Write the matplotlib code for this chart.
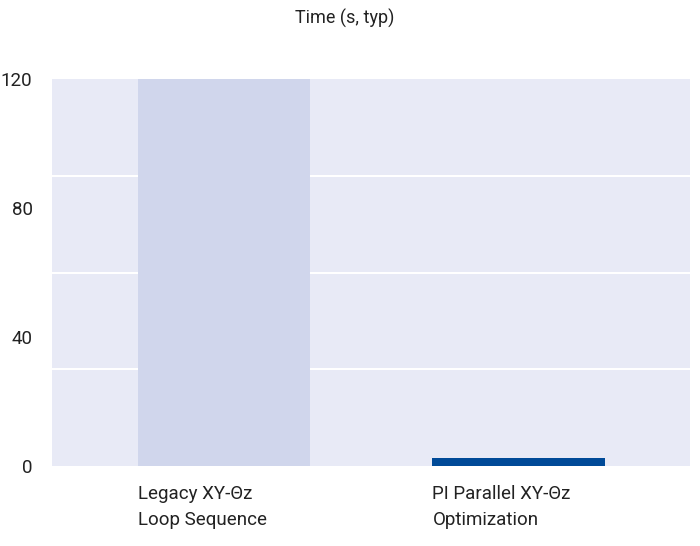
import matplotlib
matplotlib.use("Agg")
import matplotlib.pyplot as plt
import matplotlib.transforms as mt

categories = ["Legacy XY-Θz\nLoop Sequence", "PI Parallel XY-Θz\nOptimization"]
values = [120, 2.5]
colors = ["#d0d6ec", "#004a98"]
yticks = [0, 40, 80, 120]
grid_vals = [30, 60, 90]

plt.rcParams['font.family'] = ['Roboto', 'DejaVu Sans']
fig = plt.figure(figsize=(7, 5.46), dpi=100)
ax = fig.add_axes([52/700, 1-466/546, 638/700, 387/546])
ax.set_facecolor("#e8eaf6")
x = list(range(len(categories)))
width = 0.586
ax.bar(x, values, width=width, color=colors, zorder=2)
for g in grid_vals:
    ax.axhline(g, color="white", lw=1.5, zorder=1)
ax.set_xlim(-0.583, 1.58)
ax.set_ylim(0, 120)
ax.set_yticks(yticks)
ax.set_xticks([])
trans = mt.blended_transform_factory(ax.transData, fig.transFigure)
for xi, lab in zip(x, categories):
    ax.text(xi - width/2, 1-485/546, lab, transform=trans, ha="left", va="top",
            fontsize=13.5, color="#222222", linespacing=1.6)
ax.tick_params(axis="y", labelsize=13.5, colors="#222222", length=0, pad=14)
for s in ax.spines.values():
    s.set_visible(False)
fig.text(345/700, 1-18/546, "Time (s, typ)", ha="center", va="center", fontsize=13, color="#222222")
fig.savefig("out.png", dpi=100)
